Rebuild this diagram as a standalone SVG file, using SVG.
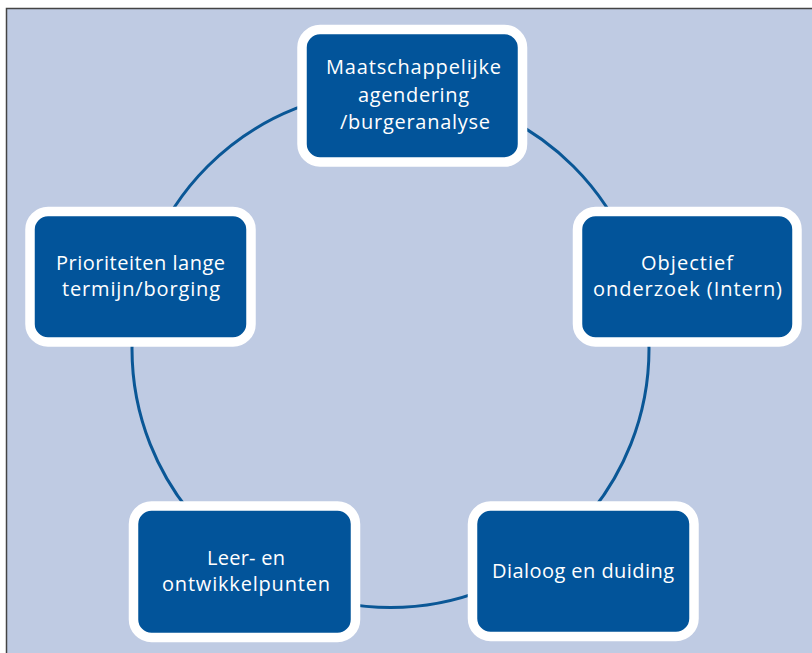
<svg xmlns="http://www.w3.org/2000/svg" width="812" height="653" viewBox="0 0 812 653">
<style>
.node rect{fill:#02549a;stroke:#ffffff;stroke-width:9.5}
.node text{fill:#ffffff;font-family:"Open Sans","Noto Sans",sans-serif;font-size:20px;text-anchor:middle}
.conn{fill:none;stroke:#0a5796;stroke-width:3}
</style>
<rect x="0" y="0" width="812" height="653" fill="#ffffff"/>
<rect x="6.5" y="8.5" width="820" height="660" fill="#bfcbe3" stroke="#444444" stroke-width="1.5"/>
<g id="connectors">
<circle class="conn" cx="390.5" cy="349" r="258.5"/>
</g>
<g id="node-maatschappelijke" class="node">
<rect x="302" y="29.5" width="220.5" height="132.5" rx="18"/>
<text x="413.5" y="74" textLength="175">Maatschappelijke</text>
<text x="413.5" y="102" textLength="111">agendering</text>
<text x="415" y="129" textLength="150">/burgeranalyse</text>
</g>
<g id="node-objectief" class="node">
<rect x="577.5" y="211.5" width="219.5" height="130.5" rx="18"/>
<text x="687" y="270" textLength="92">Objectief</text>
<text x="687.5" y="296" textLength="189">onderzoek (Intern)</text>
</g>
<g id="node-prioriteiten" class="node">
<rect x="30" y="211.5" width="221" height="130.5" rx="18"/>
<text x="140.5" y="270" textLength="169">Prioriteiten lange</text>
<text x="141" y="296" textLength="158">termijn/borging</text>
</g>
<g id="node-leer" class="node">
<rect x="133.5" y="506" width="222" height="131.5" rx="18"/>
<text x="246" y="565" textLength="78">Leer- en</text>
<text x="246" y="591" textLength="168">ontwikkelpunten</text>
</g>
<g id="node-dialoog" class="node">
<rect x="472.5" y="506" width="221.5" height="130.5" rx="18"/>
<text x="583" y="578" textLength="182">Dialoog en duiding</text>
</g>
</svg>
